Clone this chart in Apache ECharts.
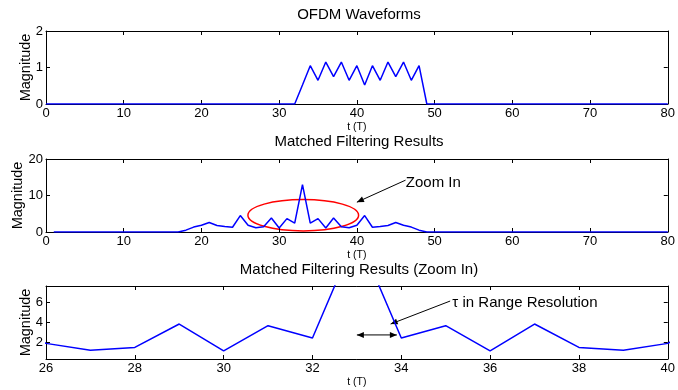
<!DOCTYPE html>
<html><head><meta charset="utf-8">
<script src="https://cdn.jsdelivr.net/npm/echarts@6/dist/echarts.min.js"></script>
<style>html,body{margin:0;padding:0;background:#fff}#c{width:678px;height:390px}</style>
</head><body><div id="c"></div>
<script>
// ---- data ----
const ofdmT   = [0, 32, 33, 34, 35, 36, 37, 38, 39, 40, 41, 42, 43, 44, 45, 46, 47, 48, 49, 80];
const ofdmMag = [0, 0, 0.52, 1.05, 0.65, 1.15, 0.75, 1.15, 0.65, 1.05, 0.52, 1.05, 0.65, 1.15, 0.75, 1.15, 0.65, 1.05, 0, 0];

const mfT   = [1, 17, 18, 19, 20, 21, 22, 23, 24, 25, 26, 27, 28, 29, 30, 31, 32, 33, 34, 35, 36, 37, 38, 39, 40, 41, 42, 43, 44, 45, 46, 47, 48, 49, 80];
const mfMag = [0, 0, 0.5, 1.35, 1.85, 2.6, 1.8, 1.5, 1.3, 4.5, 1.86, 1.17, 1.45, 3.83, 1.1, 3.66, 2.41, 13.0, 2.41, 3.66, 1.1, 3.83, 1.45, 1.17, 1.86, 4.5, 1.3, 1.5, 1.8, 2.6, 1.85, 1.35, 0.5, 0, 0];

const titles = ['OFDM Waveforms', 'Matched Filtering Results', 'Matched Filtering Results (Zoom In)'];
const xLabel = 't (T)';
const yLabel = 'Magnitude';
const zoomText = 'Zoom In';
const resText = 'τ in Range Resolution';

// axis ranges
const xRanges = [[0, 80, 10], [0, 80, 10], [26, 40, 2]];
const yRanges = [[0, 2, 1], [0, 20, 10], [0.27, 7.7, null]];
const zoomYTicks = [2, 4, 6];

// annotation anchors (data coordinates)
const ellipseCenter = [33.1, 4.6], ellipseRadius = [7.12, 4.3];
const zoomArrow = [[46.26, 14.2], [40.0, 8.17]];
const zoomTextPos = [46.3, 13.6];
const resArrow = [[35.1, 6.17], [33.76, 3.83]];
const resTextPos = [35.15, 5.97];
const dblArrow = [[33.0, 2.72], [33.9, 2.72]];

// ---- chart ----
const FONT = 'Liberation Sans, Arial, sans-serif';
const gridTops = [31, 159, 286];
const yNameGaps = [13, 21, 13];
const GH = 73, GL = 46, GR = 6;
const chart = echarts.init(document.getElementById('c'), null, {renderer: 'canvas'});

const zip = (a, b) => a.map((v, i) => [v, b[i]]);
const grids = gridTops.map(t => ({left: GL, right: GR, top: t, height: GH, containLabel: false}));
const xAxes = [], yAxes = [];
xRanges.forEach((r, i) => {
  const base = {type: 'value', gridIndex: i, min: r[0], max: r[1], interval: r[2],
    axisLine: {show: true, onZero: false, lineStyle: {color: '#000', width: 1}},
    axisTick: {show: true, inside: true, length: 4, lineStyle: {color: '#000'}},
    splitLine: {show: false}};
  xAxes.push(Object.assign({}, base, {position: 'bottom',
    axisLabel: {color: '#000', fontSize: 13, fontFamily: FONT, margin: 3},
    name: xLabel, nameLocation: 'middle', nameGap: 18, nameMoveOverlap: false,
    nameTextStyle: {color: '#000', fontSize: 10.5, fontFamily: FONT}}));
  xAxes.push(Object.assign({}, base, {position: 'top', axisLabel: {show: false}}));
});
yRanges.forEach((r, i) => {
  const base = {type: 'value', gridIndex: i, min: r[0], max: r[1],
    axisLine: {show: true, onZero: false, lineStyle: {color: '#000', width: 1}},
    axisTick: {show: true, inside: true, length: 4, lineStyle: {color: '#000'}},
    splitLine: {show: false}};
  if (r[2] != null) base.interval = r[2];
  else base.axisTick.customValues = zoomYTicks;
  const lbl = {color: '#000', fontSize: 13, fontFamily: FONT, margin: 3};
  if (r[2] == null) lbl.customValues = zoomYTicks;
  yAxes.push(Object.assign({}, base, {position: 'left', axisLabel: lbl,
    name: yLabel, nameLocation: 'middle', nameGap: yNameGaps[i], nameMoveOverlap: false,
    nameTextStyle: {color: '#000', fontSize: 14.5, fontFamily: FONT}}));
  yAxes.push(Object.assign({}, base, {position: 'right', axisLabel: {show: false}}));
});

const lineStyle = {color: '#0000ff', width: 1.5};
const series = [
  {type: 'line', xAxisIndex: 0, yAxisIndex: 0, data: zip(ofdmT, ofdmMag)},
  {type: 'line', xAxisIndex: 2, yAxisIndex: 2, data: zip(mfT, mfMag)},
  {type: 'line', xAxisIndex: 4, yAxisIndex: 4, data: zip(mfT, mfMag)}
].map(s => Object.assign(s, {showSymbol: false, symbol: 'none', lineStyle, itemStyle: {color: '#0000ff'}, clip: true, animation: false}));

chart.setOption({animation: false, backgroundColor: '#fff', grid: grids, xAxis: xAxes, yAxis: yAxes, series});

// ---- titles & annotations ----
const titleY = [15, 142, 270];
function px(gi, p) { return chart.convertToPixel({gridIndex: gi}, p); }
function arrowHead(tip, from, len, half) {
  const dx = tip[0] - from[0], dy = tip[1] - from[1];
  const d = Math.hypot(dx, dy), ux = dx / d, uy = dy / d;
  const bx = tip[0] - ux * len, by = tip[1] - uy * len;
  return {type: 'polygon', shape: {points: [tip, [bx - uy * half, by + ux * half], [bx + uy * half, by - ux * half]]},
    style: {fill: '#000'}, silent: true};
}
function arrow(gi, a, b, both) {
  const p = px(gi, a), q = px(gi, b);
  const els = [{type: 'line', shape: {x1: p[0], y1: p[1], x2: q[0], y2: q[1]}, style: {stroke: '#000', lineWidth: 1}, silent: true},
    arrowHead(q, p, 7, 3)];
  if (both) els.push(arrowHead(p, q, 7, 3));
  return els;
}
const ec = px(1, ellipseCenter);
const er = px(1, [ellipseCenter[0] + ellipseRadius[0], ellipseCenter[1] + ellipseRadius[1]]);
const zt = px(1, zoomTextPos), rt = px(2, resTextPos);
const titleEls = titles.map((t, i) => ({type: 'text', x: GL + (678 - GL - GR) / 2, y: titleY[i],
  style: {text: t, fill: '#000', font: '15px ' + FONT, align: 'center', verticalAlign: 'middle'}, silent: true}));
const graphic = [
  ...titleEls,
  {type: 'ellipse', shape: {cx: ec[0], cy: ec[1], rx: er[0] - ec[0], ry: ec[1] - er[1]},
    style: {fill: 'none', stroke: '#ff0000', lineWidth: 1.5}, silent: true},
  ...arrow(1, zoomArrow[0], zoomArrow[1], false),
  {type: 'text', x: zt[0], y: zt[1], style: {text: zoomText, fill: '#000', font: '15px ' + FONT, verticalAlign: 'middle', align: 'left'}},
  ...arrow(2, resArrow[0], resArrow[1], false),
  {type: 'text', x: rt[0], y: rt[1], style: {text: resText, fill: '#000', font: '15px ' + FONT, verticalAlign: 'middle', align: 'left'}},
  ...arrow(2, dblArrow[0], dblArrow[1], true)
];
chart.setOption({graphic});
</script>
</body></html>
